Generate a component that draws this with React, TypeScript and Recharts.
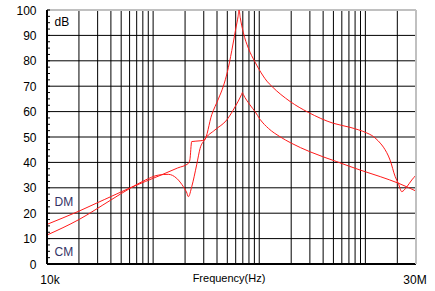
import { LineChart, Line, XAxis, YAxis, ReferenceLine } from 'recharts'

// curve with the big resonance (peaks at 100 dB)
const dmFreq = [
  10000, 20000, 60000, 120000, 170000, 215000, 222000, 231000, 277000, 304000,
  357000, 412000, 459000, 500000, 551000, 600000, 632000, 645000, 662000, 709000,
  789000, 913000, 1090000, 1180000, 1310000, 1950000, 2900000, 4990000, 7180000,
  10300000, 11500000, 13800000, 14800000, 17100000, 19100000, 20500000, 22000000,
  24600000, 27400000, 30000000,
]
const dmDb = [
  15.6, 20.8, 29.9, 35.1, 37.8, 39.6, 41, 48.2, 48.5, 48.8,
  58.8, 65, 70, 75.5, 84, 92.5, 97.5, 100, 97, 91,
  85, 79.5, 74, 72, 70, 64, 59.7, 55.4, 53.8,
  51.6, 50.6, 47.6, 46, 40.9, 34.4, 31.6, 28.5, 30.4,
  33.1, 35,
]

// curve with the notch and the smaller peak
const cmFreq = [
  10000, 20000, 40000, 60600, 84000, 112000, 139000, 167000, 193000, 206000,
  215000, 231000, 258000, 277000, 304000, 383000, 494000, 592000, 680000, 693000,
  706000, 819000, 913000, 1020000, 1220000, 1570000, 2000000, 3000000, 5370000,
  8920000, 13800000, 20500000, 30000000,
]
const cmDb = [
  11.4, 17.5, 25.2, 29.8, 33, 35, 35.3, 33.7, 30.4, 28.4,
  26.5, 30.4, 39.3, 45.5, 48.8, 52.8, 56.7, 61.9, 66.7, 67.5,
  66.8, 62.6, 60, 56.9, 53.4, 50.1, 47.6, 44.2, 40.3,
  37, 34.4, 31.8, 28.7,
]

const dbGrid = [10, 20, 30, 40, 50, 60, 70, 80, 90]
const dbTicks = [
  0, 2.5, 5, 7.5, 10, 12.5, 15, 17.5, 20, 22.5, 25, 27.5, 30, 32.5, 35, 37.5,
  40, 42.5, 45, 47.5, 50, 52.5, 55, 57.5, 60, 62.5, 65, 67.5, 70, 72.5, 75, 77.5,
  80, 82.5, 85, 87.5, 90, 92.5, 95, 97.5, 100,
]
const freqGrid = [
  20000, 30000, 40000, 50000, 60000, 70000, 80000, 90000,
  100000, 200000, 300000, 400000, 500000, 600000, 700000, 800000, 900000,
  1000000, 2000000, 3000000, 4000000, 5000000, 6000000, 7000000, 8000000, 9000000,
  10000000, 20000000,
]
const freqTicks = [10000, 30000000]
const freqLabels = ['10k', '30M']

const dmData = dmFreq.map((f, i) => ({ f, db: dmDb[i] }))
const cmData = cmFreq.map((f, i) => ({ f, db: cmDb[i] }))

const FONT = '"Liberation Sans", Arial, sans-serif'
const RED = '#ff1a1a'

const YTick = ({ x, y, payload }: any) =>
  payload.value % 10 === 0 ? (
    <text x={x} y={y} dy={4.5} textAnchor="end" fontSize={12} fontFamily={FONT} fill="#000">
      {payload.value}
    </text>
  ) : (
    <g />
  )

const XTick = ({ x, y, payload }: any) => {
  const i = freqTicks.indexOf(payload.value)
  return (
    <text x={x} y={y} dx={i === 0 ? 3 : -1} dy={20} textAnchor="middle" fontSize={12} fontFamily={FONT} fill="#000">
      {freqLabels[i]}
    </text>
  )
}

export default function App() {
  return (
    <div style={{ position: 'absolute', left: 0, top: 0, width: 435, height: 291, background: '#fff' }}>
      <LineChart width={435} height={291} margin={{ top: 10, right: 0, bottom: 0, left: 0 }}>
        <XAxis
          dataKey="f"
          type="number"
          scale="log"
          domain={[10000, 30000000]}
          allowDataOverflow
          ticks={freqTicks}
          interval={0}
          height={27}
          tickLine={false}
          tickSize={0}
          tickMargin={0}
          tick={<XTick />}
          axisLine={{ stroke: '#000', strokeWidth: 2 }}
        />
        <YAxis
          yAxisId="l"
          type="number"
          domain={[0, 100]}
          ticks={dbTicks}
          interval={0}
          width={47}
          tickSize={-3}
          tickMargin={13.5}
          tick={<YTick />}
          tickLine={{ stroke: '#000' }}
          axisLine={{ stroke: '#000', strokeWidth: 2 }}
        />
        <YAxis
          yAxisId="r"
          orientation="right"
          type="number"
          domain={[0, 100]}
          ticks={dbTicks}
          interval={0}
          width={19}
          tickSize={-3}
          tick={false}
          tickLine={{ stroke: '#000' }}
          axisLine={{ stroke: '#c0c0c0', strokeWidth: 2 }}
        />
        {freqGrid.map(f => (
          <ReferenceLine key={'v' + f} x={f} yAxisId="l" stroke="#000" strokeWidth={1} />
        ))}
        {dbGrid.map(v => (
          <ReferenceLine key={'h' + v} y={v} yAxisId="l" stroke="#000" strokeWidth={1} />
        ))}
        <ReferenceLine y={100} yAxisId="l" stroke="#c0c0c0" strokeWidth={2} />
        <Line data={dmData} yAxisId="l" dataKey="db" type="monotone" stroke={RED} strokeWidth={1} dot={false} isAnimationActive={false} />
        <Line data={cmData} yAxisId="r" dataKey="db" type="monotone" stroke={RED} strokeWidth={1} dot={false} isAnimationActive={false} />
      </LineChart>
      <svg width={435} height={291} style={{ position: 'absolute', left: 0, top: 0, pointerEvents: 'none' }}>
        <text x={54.5} y={26} fontSize={12} fontFamily={FONT} fill="#000">dB</text>
        <text x={54.5} y={205.5} fontSize={12} fontFamily={FONT} fill="#333366">DM</text>
        <text x={54.5} y={256} fontSize={12} fontFamily={FONT} fill="#333366">CM</text>
        <text x={229} y={281.5} textAnchor="middle" fontSize={11} fontFamily={FONT} fill="#000">Frequency(Hz)</text>
      </svg>
    </div>
  )
}
